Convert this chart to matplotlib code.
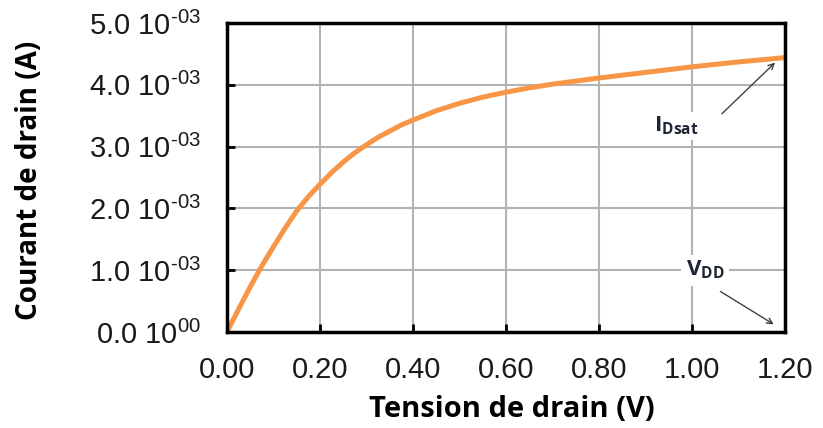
import matplotlib
matplotlib.use('Agg')
import matplotlib.pyplot as plt
from matplotlib.ticker import FuncFormatter, MultipleLocator

# drain voltage (V) and drain current (A)
vd = [0.0, 0.025, 0.05, 0.075, 0.1, 0.125, 0.15, 0.175, 0.2, 0.225, 0.25, 0.275,
      0.3, 0.325, 0.35, 0.375, 0.4, 0.45, 0.5, 0.55, 0.6, 0.65, 0.7, 0.8, 0.9,
      1.0, 1.1, 1.2]
id_ = [0.0, 0.37e-3, 0.73e-3, 1.07e-3, 1.38e-3, 1.68e-3, 1.96e-3, 2.19e-3, 2.39e-3,
       2.58e-3, 2.75e-3, 2.90e-3, 3.03e-3, 3.15e-3, 3.25e-3, 3.35e-3, 3.43e-3,
       3.58e-3, 3.70e-3, 3.80e-3, 3.88e-3, 3.95e-3, 4.01e-3, 4.11e-3, 4.20e-3,
       4.29e-3, 4.37e-3, 4.44e-3]

plt.rcParams['font.family'] = ['Liberation Sans', 'DejaVu Sans']
plt.rcParams['mathtext.fontset'] = 'custom'
plt.rcParams['mathtext.rm'] = 'Liberation Sans'
plt.rcParams['mathtext.bf'] = 'Open Sans:bold'
plt.rcParams['mathtext.default'] = 'regular'

fig = plt.figure(figsize=(8.23, 4.28), dpi=100)
ax = fig.add_axes([0.2758, 0.2243, 0.6780, 0.7220])

ax.plot(vd, id_, color='#f79646', lw=3.6, solid_capstyle='round',
        solid_joinstyle='round', zorder=3)

ax.set_xlim(0, 1.2)
ax.set_ylim(0, 5e-3)
ax.xaxis.set_major_locator(MultipleLocator(0.2))
ax.yaxis.set_major_locator(MultipleLocator(1e-3))


def fmt_y(v, pos):
    # Excel style "m.m 10^-03" labels, with a plain hyphen in the exponent
    if abs(v) < 1e-12:
        return '0.0 $10^{00}$'
    return f'{v * 1e3:.1f} ' + '$10^{\u201003}$'


ax.yaxis.set_major_formatter(FuncFormatter(fmt_y))
ax.xaxis.set_major_formatter(FuncFormatter(lambda v, p: f'{v:.2f}'))

ax.grid(True, color='#b3b3b3', lw=1.5, zorder=1)
ax.tick_params(direction='in', length=6, width=2, color='black',
               labelsize=21, labelcolor='#1a1a1a')
ax.tick_params(axis='y', pad=19)
ax.tick_params(axis='x', pad=17)
for s in ax.spines.values():
    s.set_linewidth(2.5)
    s.set_color('black')
    s.set_zorder(4)

ax.set_xlabel('Tension de drain (V)', fontsize=21, fontweight='bold',
              family='Open Sans')
ax.set_ylabel('Courant de drain (A)', fontsize=20, fontweight='bold',
              family='Open Sans')
ax.xaxis.set_label_coords(0.511, -0.205)
ax.yaxis.set_label_coords(-0.328, 0.49)

# annotations
ax.text(0.966, 3.33e-3, r'$\mathbf{I}_{\mathbf{Dsat}}$', fontsize=16,
        color='#1c2333', ha='center', va='center', zorder=5,
        bbox=dict(facecolor='white', edgecolor='none', pad=2))
ax.annotate('', xy=(1.183, 4.39e-3), xytext=(1.060, 3.50e-3),
            arrowprops=dict(arrowstyle='->', color='#404040', lw=1.0), zorder=5)

ax.text(1.028, 1.0e-3, r'$\mathbf{V}_{\mathbf{DD}}$', fontsize=16,
        color='#1c2333', ha='center', va='center', zorder=5,
        bbox=dict(facecolor='white', edgecolor='none', pad=3))
ax.annotate('', xy=(1.181, 0.10e-3), xytext=(1.056, 0.68e-3),
            arrowprops=dict(arrowstyle='->', color='#404040', lw=1.0), zorder=5)

fig.savefig('out.png', dpi=100)
